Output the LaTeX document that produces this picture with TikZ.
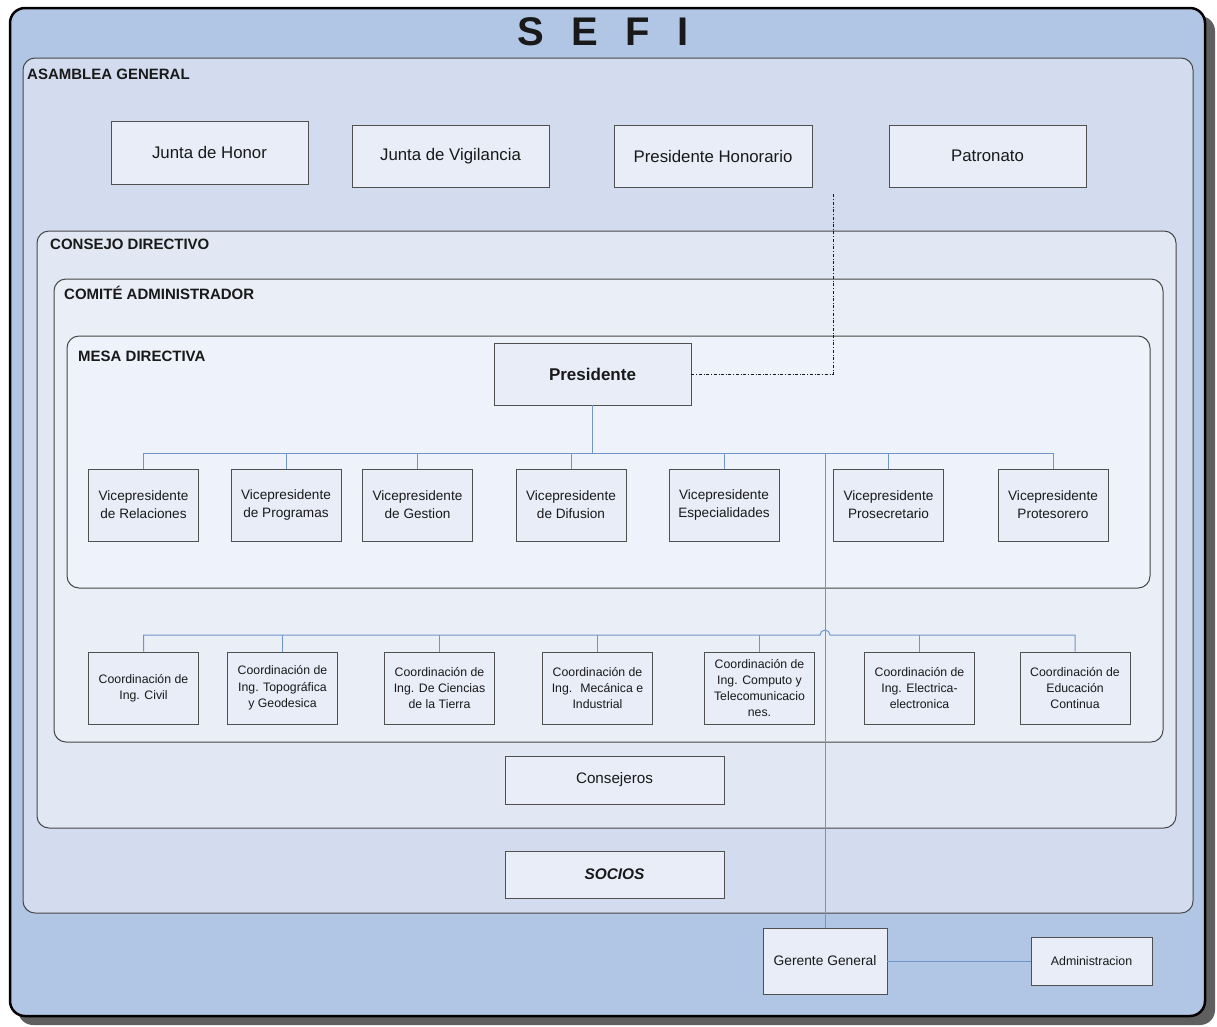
\documentclass[tikz,border=0pt]{standalone}
\usepackage{fontspec}
\setmainfont{Liberation Sans}
\definecolor{sefiblue}{RGB}{177,198,228}
\definecolor{asamblea}{RGB}{211,220,238}
\definecolor{consejo}{RGB}{225,231,243}
\definecolor{comite}{RGB}{234,238,247}
\definecolor{mesa}{RGB}{238,242,250}
\definecolor{boxfill}{RGB}{232,237,248}
\definecolor{boxline}{RGB}{80,80,80}
\definecolor{frameline}{RGB}{70,70,70}
\definecolor{linkblue}{RGB}{112,150,200}
\definecolor{shadowgray}{RGB}{95,95,95}
\definecolor{ink}{RGB}{25,25,25}

\begin{document}
\begin{tikzpicture}[x=1pt,y=-1pt,
		box/.style={draw=boxline,line width=0.9pt,fill=boxfill,text=ink,align=center,inner sep=1pt,font=\fontsize{16.8}{20}\selectfont},
		vbox/.style={box,minimum width=110pt,minimum height=72pt,font=\fontsize{13.6}{18}\selectfont},
		cbox/.style={box,minimum width=110pt,minimum height=72pt,font=\fontsize{12.3}{16.3}\selectfont},
		frame/.style={draw=frameline,line width=1pt,rounded corners=12pt},
		tag/.style={anchor=base west,inner sep=0pt,text=ink,font=\bfseries\fontsize{15}{18}\selectfont},
		link/.style={draw=linkblue,line width=1pt}]
				\useasboundingbox (0,0) rectangle (1217,1026);
				\fill[white] (0,0) rectangle (1217,1026);
				% marco SEFI
				\fill[shadowgray,rounded corners=15pt] (18,16) rectangle (1215,1025);
				\draw[fill=sefiblue,line width=2.5pt,rounded corners=15pt] (10,8) rectangle (1205,1016);
				\node[text=ink,font=\bfseries\fontsize{40}{44}\selectfont] (title) at (603,32) {S\hspace{0.68em}E\hspace{0.68em}F\hspace{0.68em}I};
				% organos
				\draw[frame,fill=asamblea] (23,58) rectangle (1193,913);
				\draw[frame,fill=consejo] (37,231) rectangle (1176,828);
				\draw[frame,fill=comite] (54,279) rectangle (1163,742);
				\draw[frame,fill=mesa] (67,336) rectangle (1150,588);
				\node[tag] (tasamblea) at (27,79) {ASAMBLEA GENERAL};
				\node[tag] (tconsejo) at (50,249) {CONSEJO DIRECTIVO};
				\node[tag] (tcomite) at (64,299) {COMITÉ ADMINISTRADOR};
				\node[tag] (tmesa) at (78,361) {MESA DIRECTIVA};
				% asamblea
				\node[box,minimum width=197pt,minimum height=63pt] (honor) at (209.5,152.5) {Junta de Honor};
				\node[box,minimum width=197pt,minimum height=62pt] (vigil) at (450.5,156) {Junta de Vigilancia};
				\node[box,minimum width=198pt,minimum height=62pt] (phon) at (713,156) {Presidente Honorario};
				\node[box,minimum width=197pt,minimum height=62pt] (patron) at (987.5,156) {Patronato};
				% mesa directiva
				\node[box,minimum width=197pt,minimum height=62pt,font=\bfseries\fontsize{17}{20}\selectfont] (pres) at (592.5,374) {Presidente};
				\node[vbox] (vrel) at (143.5,505) {Vicepresidente\\de Relaciones};
				\node[vbox] (vpro) at (286,505) {Vicepresidente\\de Programas};
				\node[vbox] (vges) at (417.5,505) {Vicepresidente\\de Gestion};
				\node[vbox] (vdif) at (571,505) {Vicepresidente\\de Difusion};
				\node[vbox] (vesp) at (724,505) {Vicepresidente\\Especialidades};
				\node[vbox] (vsec) at (888.5,505) {Vicepresidente\\Prosecretario};
				\node[vbox] (vtes) at (1053,505) {Vicepresidente\\Protesorero};
				% coordinaciones
				\node[cbox] (cciv) at (143.5,688) {Coordinación de\\Ing. Civil};
				\node[cbox] (ctop) at (282.5,688) {Coordinación de\\Ing. Topográfica\\y Geodesica};
				\node[cbox] (ccie) at (439.5,688) {Coordinación de\\Ing. De Ciencias\\de la Tierra};
				\node[cbox] (cmec) at (597.5,688) {Coordinación de\\Ing. \ Mecánica e\\Industrial};
				\node[cbox] (ccom) at (759.5,688) {Coordinación de\\Ing. Computo y\\Telecomunicacio\\nes.};
				\node[cbox] (cele) at (919.5,688) {Coordinación de\\Ing. Electrica-\\electronica};
				\node[cbox] (cedu) at (1075,688) {Coordinación de\\Educación\\Continua};
				\node[box,minimum width=219pt,minimum height=48pt,font=\fontsize{15.2}{18}\selectfont] (consej) at (614.5,780) {Consejeros};
				\node[box,minimum width=219pt,minimum height=47pt,font=\bfseries\itshape\fontsize{15.4}{18}\selectfont] (socios) at (614.5,874.5) {SOCIOS};
				\node[box,minimum width=124pt,minimum height=66pt,font=\fontsize{13.8}{17}\selectfont] (gerente) at (825,961) {Gerente General};
				\node[box,minimum width=121pt,minimum height=48pt,font=\fontsize{12.4}{15}\selectfont] (admin) at (1091.5,961) {Administracion};
				% lineas
				\coordinate (vbus) at (593,453);
				\coordinate (cbus) at (597,635);
				\coordinate (hop) at (gerente.north |- cbus);
				\coordinate (phtip) at (833,193);
				\draw[link] (pres.south) -- (pres.south |- vbus);
				\draw[link] (vrel.north) -- (vrel.north |- vbus) -- (vtes.north |- vbus) -- (vtes.north);
				\draw[link] (vpro.north) -- (vpro.north |- vbus);
				\draw[link] (vges.north) -- (vges.north |- vbus);
				\draw[link] (vdif.north) -- (vdif.north |- vbus);
				\draw[link] (vesp.north) -- (vesp.north |- vbus);
				\draw[link] (vsec.north) -- (vsec.north |- vbus);
				\draw[link] (cciv.north) -- (cciv.north |- cbus) -- ([xshift=-5pt]hop) arc[start angle=180,end angle=0,radius=5pt] -- (cedu.north |- cbus) -- (cedu.north);
				\draw[link] (ctop.north) -- (ctop.north |- cbus);
				\draw[link] (ccie.north) -- (ccie.north |- cbus);
				\draw[link] (cmec.north) -- (cmec.north |- cbus);
				\draw[link] (ccom.north) -- (ccom.north |- cbus);
				\draw[link] (cele.north) -- (cele.north |- cbus);
				\draw[link] (gerente.north |- vbus) -- (gerente.north);
				\draw[link] (gerente.east) -- (admin.west);
				\draw[dash dot,line width=0.9pt,draw=ink] (pres.east) -| (phtip);
\end{tikzpicture}
\end{document}
